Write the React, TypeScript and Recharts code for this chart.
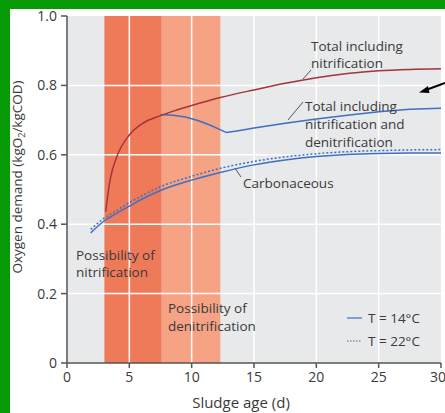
import React from 'react';
import { ComposedChart, Line, XAxis, YAxis, ReferenceArea, ReferenceLine } from 'recharts';

const xTicks = [0, 5, 10, 15, 20, 25, 30];
const yTicks = [0, 0.2, 0.4, 0.6, 0.8, 1.0];

// shaded zones (sludge age, d)
const nitrificationZone = [3, 7.6];
const denitrificationZone = [7.6, 12.3];

const totalNitX = [3.1, 3.45, 4, 5, 6, 7.5, 8.8, 10, 12.3, 15, 17.5, 20, 22.5, 25, 27.5, 30];
const totalNitY = [0.436, 0.527, 0.595, 0.657, 0.689, 0.713, 0.729, 0.742, 0.765, 0.787, 0.806, 0.822, 0.834, 0.842, 0.846, 0.848];

const totalDenitX = [7.5, 8.5, 9.5, 10.5, 11.5, 12.8, 14, 15, 17.5, 20, 22.5, 25, 27.5, 30];
const totalDenitY = [0.716, 0.714, 0.709, 0.699, 0.685, 0.664, 0.671, 0.677, 0.691, 0.703, 0.714, 0.724, 0.731, 0.734];

const carbX = [1.9, 3, 4, 5, 6, 7.5, 10, 12.3, 15, 17.5, 20, 22.5, 25, 27.5, 30];
const carb14Y = [0.375, 0.41, 0.432, 0.452, 0.472, 0.497, 0.527, 0.549, 0.571, 0.585, 0.595, 0.601, 0.604, 0.605, 0.605];
const carb22Y = [0.385, 0.418, 0.44, 0.462, 0.482, 0.508, 0.538, 0.561, 0.581, 0.594, 0.603, 0.609, 0.612, 0.614, 0.615];

const toPoints = (xs: number[], ys: number[]) => xs.map((x, i) => ({ x, y: ys[i] }));

const font = '"Open Sans", sans-serif';
const textCol = '#3a3a3a';
const red = '#a3343a';
const blue = '#3f6fc0';

export default function App() {
  const tickStyle = { fontSize: 14, fill: textCol, fontFamily: font };
  return (
    <div style={{ position: 'fixed', left: 0, top: 0, width: 445, height: 413, background: '#079a07', overflow: 'hidden' }}>
      <div style={{ position: 'absolute', left: 10, top: 9, right: 0, bottom: 0, background: '#fff' }} />
      <div style={{ position: 'absolute', left: 0, top: 0 }}>
        <ComposedChart width={445} height={413} margin={{ top: 16, right: 4, left: 0, bottom: 0 }}>
          <XAxis
            type="number"
            dataKey="x"
            domain={[0, 30]}
            ticks={xTicks}
            height={50}
            tick={tickStyle}
            tickSize={5}
            tickMargin={4}
            stroke="#555"
            strokeWidth={1.5}
            allowDataOverflow
          />
          <YAxis
            type="number"
            dataKey="y"
            domain={[0, 1]}
            ticks={yTicks}
            width={67}
            tick={tickStyle}
            tickSize={6}
            tickMargin={4}
            stroke="#555"
            strokeWidth={1.5}
            tickFormatter={(v: number) => (v === 0 ? '0' : v.toFixed(1))}
          />
          <ReferenceArea x1={0} x2={30} y1={0} y2={1} fill="#e8e9eb" fillOpacity={1} stroke="none" />
          <ReferenceArea x1={nitrificationZone[0]} x2={nitrificationZone[1]} y1={0} y2={1} fill="#ef7a59" fillOpacity={1} stroke="none" />
          <ReferenceArea x1={denitrificationZone[0]} x2={denitrificationZone[1]} y1={0} y2={1} fill="#f5a384" fillOpacity={1} stroke="none" />
          {xTicks.slice(1, -1).map(t => (
            <ReferenceLine key={'gx' + t} x={t} stroke="#ffffff" strokeWidth={1.5} />
          ))}
          {yTicks.slice(1, -1).map(t => (
            <ReferenceLine key={'gy' + t} y={t} stroke="#ffffff" strokeWidth={1.5} />
          ))}
          <Line data={toPoints(carbX, carb22Y)} dataKey="y" type="monotone" stroke={blue} strokeWidth={1.5} strokeDasharray="2 2" dot={false} isAnimationActive={false} />
          <Line data={toPoints(carbX, carb14Y)} dataKey="y" type="monotone" stroke={blue} strokeWidth={1.5} dot={false} isAnimationActive={false} />
          <Line data={toPoints(totalDenitX, totalDenitY)} dataKey="y" type="linear" stroke={blue} strokeWidth={1.5} dot={false} isAnimationActive={false} />
          <Line data={toPoints(totalNitX, totalNitY)} dataKey="y" type="monotone" stroke={red} strokeWidth={1.5} dot={false} isAnimationActive={false} />
        </ComposedChart>
      </div>
      <svg width={445} height={413} style={{ position: 'absolute', left: 0, top: 0, pointerEvents: 'none' }}>
        <g fontFamily={font} fontSize={13.5} fill={textCol}>
          <text x={311} y={51}>Total including</text>
          <text x={311} y={68}>nitrification</text>
          <text x={305} y={111}>Total including</text>
          <text x={305} y={129}>nitrification and</text>
          <text x={305} y={147}>denitrification</text>
          <text x={243} y={188}>Carbonaceous</text>
          <text x={76} y={260}>Possibility of</text>
          <text x={76} y={277}>nitrification</text>
          <text x={168} y={313}>Possibility of</text>
          <text x={168} y={331}>denitrification</text>
          <text x={368} y={323}>T = 14°C</text>
          <text x={368} y={346}>T =  22°C</text>
          <text x={241} y={408} textAnchor="middle" fontSize={15}>Sludge age (d)</text>
          <text x={22} y={177} textAnchor="middle" fontSize={13.5} transform="rotate(-90 22 177)">
            Oxygen demand (kgO<tspan fontSize={9} dy={3}>2</tspan><tspan dy={-3}>/kgCOD)</tspan>
          </text>
        </g>
        <g stroke="#555" strokeWidth={1}>
          <line x1={311} y1={70} x2={303} y2={79} />
          <line x1={303} y1={102} x2={288} y2={120} />
          <line x1={241} y1={177} x2={235} y2={168} />
        </g>
        <line x1={347} y1={318} x2={362} y2={318} stroke={blue} strokeWidth={1.2} />
        <line x1={347} y1={341} x2={362} y2={341} stroke={blue} strokeWidth={1.2} strokeDasharray="1.5 1.5" />
        <line x1={445} y1={83} x2={426} y2={90} stroke="#000" strokeWidth={2} />
        <polygon points="419,92.5 428,86 429.5,93" fill="#000" />
      </svg>
    </div>
  );
}
